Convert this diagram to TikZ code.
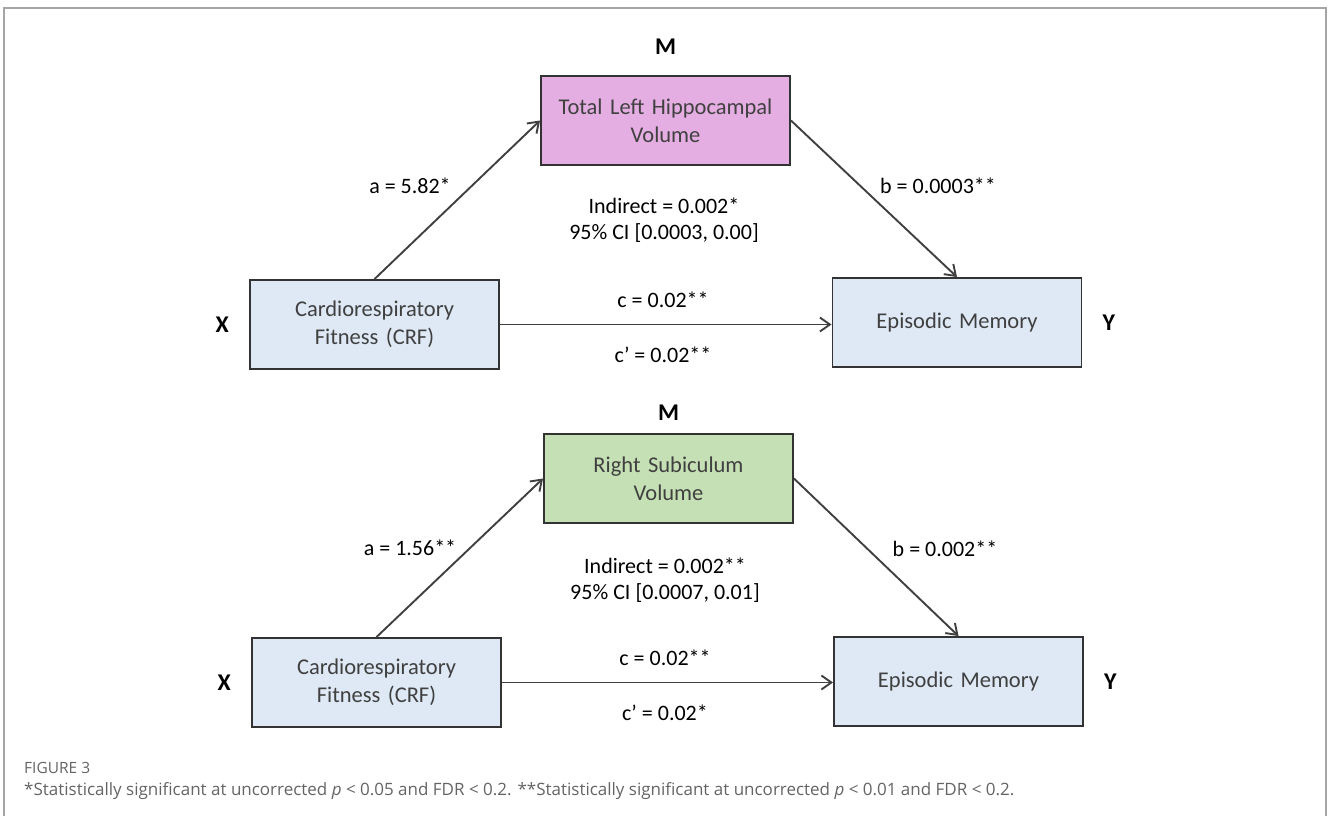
\documentclass[tikz,border=0pt]{standalone}
\usepackage{fontspec}
\setmainfont{Carlito}
\newfontfamily\capfont{Open Sans}
\usepackage{tikz}
\usetikzlibrary{arrows.meta,positioning}
\usepackage{xcolor}
\definecolor{medpink}{RGB}{229,174,226}
\definecolor{medgreen}{RGB}{197,224,180}
\definecolor{varblue}{RGB}{222,233,245}
\definecolor{boxtext}{RGB}{64,64,64}
\definecolor{pathgray}{RGB}{64,64,64}
\definecolor{framegray}{RGB}{165,165,165}
\definecolor{capgray}{RGB}{100,100,100}
\tikzstyle{varbox} = [rectangle, minimum width=249pt, minimum height=89pt, text width=240pt, align=center, draw=black!80, line width=1.9pt, fill=varblue, text=boxtext, font=\fontsize{22.5}{28}\selectfont]
\tikzstyle{patharrow} = [line width=1.9pt, draw=pathgray, -{Straight Barb[length=10pt,width=14pt]}]
\tikzstyle{coef} = [font=\fontsize{22}{26}\selectfont, align=center, inner sep=0pt]
\tikzstyle{role} = [font=\fontsize{24}{28}\selectfont\bfseries, inner sep=0pt]
\tikzstyle{caption} = [anchor=west, inner sep=0pt, text=capgray]

\begin{document}
\begin{tikzpicture}[x=1pt, y=-1pt]
\useasboundingbox (0,0) rectangle (1328,816);
% Frame
\draw[framegray, line width=1.5pt] (4,816) -- (4,8) -- (1326,8) -- (1326,816);

% Upper model: hippocampal volume
\node (mA) [varbox, fill=medpink] at (665.5,120.5) {Total Left Hippocampal\\Volume};
\node (xA) [varbox] at (374.5,324.5) {Cardiorespiratory\\Fitness (CRF)};
\node (yA) [varbox] at (957,322.5) {Episodic Memory};
\node (mlabA) [role, above=20pt of mA] {M};
\node (xlabA) [role, left=20pt of xA] {X};
\node (ylabA) [role, right=20pt of yA] {Y};

\draw[patharrow] (xA.north) -- (mA.west);
\draw[patharrow] (mA.east) -- (yA.north);
\draw[patharrow] (xA.east) -- (xA.east -| yA.west);

\node (aA) [coef] at (410,186) {a = 5.82*};
\node (bA) [coef] at (938,186) {b = 0.0003**};
\node (indA) [coef] at (664,220) {Indirect = 0.002*\\95\% CI [0.0003, 0.00]};
\node (cA) [coef] at (663,300) {c = 0.02**};
\node (cpA) [coef] at (663,355) {c’ = 0.02**};

% Lower model: subiculum volume
\node (mB) [varbox, fill=medgreen] at (668.5,478.5) {Right Subiculum\\Volume};
\node (xB) [varbox] at (376.5,682.5) {Cardiorespiratory\\Fitness (CRF)};
\node (yB) [varbox] at (958.5,681.5) {Episodic Memory};
\node (mlabB) [role, above=12pt of mB] {M};
\node (xlabB) [role, left=20pt of xB] {X};
\node (ylabB) [role, right=20pt of yB] {Y};

\draw[patharrow] (xB.north) -- (mB.west);
\draw[patharrow] (mB.east) -- (yB.north);
\draw[patharrow] (xB.east) -- (xB.east -| yB.west);

\node (aB) [coef] at (410,548) {a = 1.56**};
\node (bB) [coef] at (945,549) {b = 0.002**};
\node (indB) [coef] at (665,580) {Indirect = 0.002**\\95\% CI [0.0007, 0.01]};
\node (cB) [coef] at (665,658) {c = 0.02**};
\node (cpB) [coef] at (665,713) {c’ = 0.02*};

% Caption
\node (figno) [caption, font=\capfont\fontsize{15.5}{18}\selectfont] at (24,768) {FIGURE 3};
\node (fignote) [caption, font=\capfont\fontsize{17}{19}\selectfont] at (24,791) {*Statistically significant at uncorrected \textit{p} < 0.05 and FDR < 0.2. **Statistically significant at uncorrected \textit{p} < 0.01 and FDR < 0.2.};
\end{tikzpicture}
\end{document}
